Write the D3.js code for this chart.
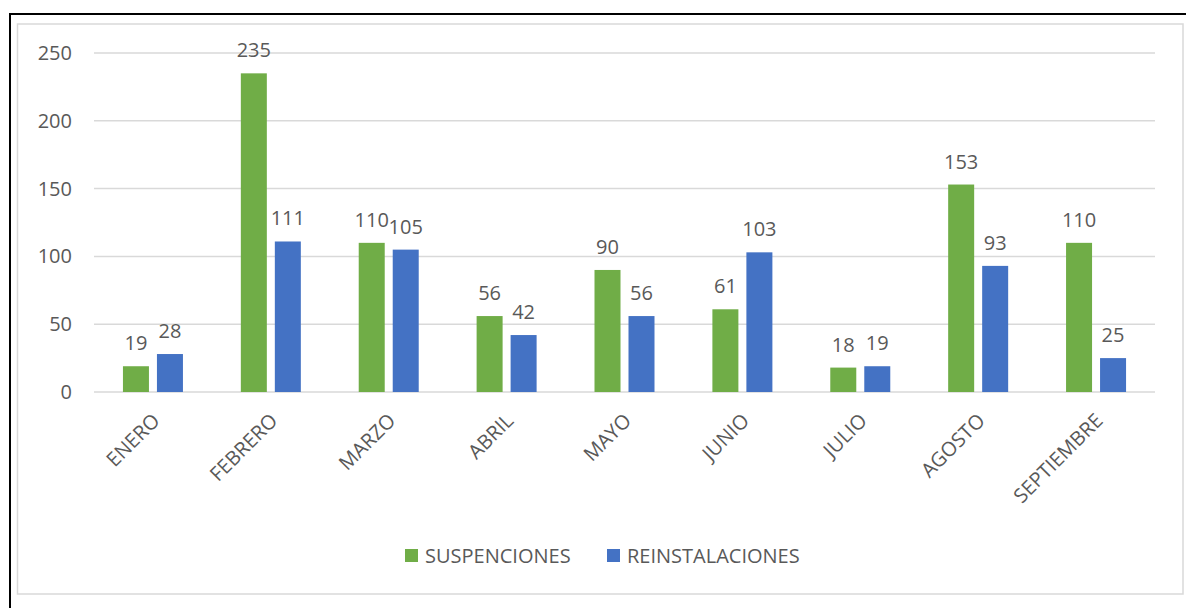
<!DOCTYPE html>
<html>
<head>
<meta charset="utf-8">
<script src="https://cdn.jsdelivr.net/npm/d3@7"></script>
<style>
  body { margin: 0; background: #fff; }
  text { font-family: "Open Sans", sans-serif; fill: #595959; }
</style>
</head>
<body>
<svg id="chart" width="1186" height="608"></svg>
<script>
var w = 1186;
var h = 608;

// data
var months = ['ENERO', 'FEBRERO', 'MARZO', 'ABRIL', 'MAYO', 'JUNIO', 'JULIO', 'AGOSTO', 'SEPTIEMBRE'];
var seriesNames = ['SUSPENCIONES', 'REINSTALACIONES'];
var suspenciones = [19, 235, 110, 56, 90, 61, 18, 153, 110];
var reinstalaciones = [28, 111, 105, 42, 56, 103, 19, 93, 25];
var yTicks = [0, 50, 100, 150, 200, 250];
var colors = ['#70AD47', '#4472C4'];

var svg = d3.select('#chart');

// outer frames
svg.append('rect')
   .attr('x', 17.5).attr('y', 24).attr('width', 1165.5).attr('height', 570)
   .attr('fill', 'none').attr('stroke', '#D9D9D9').attr('stroke-width', 1.5);
svg.append('line').attr('x1', 9).attr('x2', w).attr('y1', 14).attr('y2', 14)
   .attr('stroke', '#000').attr('stroke-width', 2);
svg.append('line').attr('x1', 10).attr('x2', 10).attr('y1', 13).attr('y2', h)
   .attr('stroke', '#000').attr('stroke-width', 2);

var plotLeft = 94, plotRight = 1155, plotTop = 53, plotBottom = 392;

var x = d3.scaleBand().domain(months).range([plotLeft, plotRight]).padding(0);
var y = d3.scaleLinear().domain([0, 250]).range([plotBottom, plotTop]);
var step = x.bandwidth();
var x1 = d3.scaleBand().domain(seriesNames)
           .range([(step - 60) / 2, (step + 60) / 2])
           .paddingInner(2 - 60 / 34);

// gridlines + y labels
var grid = svg.append('g');
grid.selectAll('line').data(yTicks).enter().append('line')
    .attr('x1', plotLeft).attr('x2', plotRight)
    .attr('y1', function(d) { return y(d); })
    .attr('y2', function(d) { return y(d); })
    .attr('stroke', '#D9D9D9').attr('stroke-width', 1.5);
grid.selectAll('text').data(yTicks).enter().append('text')
    .attr('x', 72)
    .attr('y', function(d) { return y(d) + 7; })
    .attr('text-anchor', 'end')
    .style('font-size', '20px')
    .text(function(d) { return d; });

// bars
var rows = months.map(function(m, i) {
  return { month: m, values: [suspenciones[i], reinstalaciones[i]] };
});

var groups = svg.selectAll('.month').data(rows).enter().append('g')
    .attr('class', 'month')
    .attr('transform', function(d) { return 'translate(' + x(d.month) + ',0)'; });

groups.selectAll('rect').data(function(d) { return d.values; }).enter().append('rect')
    .attr('x', function(d, i) { return x1(seriesNames[i]); })
    .attr('y', function(d) { return y(d); })
    .attr('width', x1.bandwidth())
    .attr('height', function(d) { return plotBottom - y(d); })
    .attr('fill', function(d, i) { return colors[i]; });

groups.selectAll('text').data(function(d) { return d.values; }).enter().append('text')
    .attr('x', function(d, i) { return x1(seriesNames[i]) + x1.bandwidth() / 2; })
    .attr('y', function(d) { return y(d) - 16; })
    .attr('text-anchor', 'middle')
    .style('font-size', '20px')
    .text(function(d) { return d; });

// x labels, rotated
svg.selectAll('.xlab').data(months).enter().append('text')
    .attr('class', 'xlab')
    .attr('text-anchor', 'end')
    .style('font-size', '20px')
    .attr('transform', function(d) {
      var cx = x(d) + step / 2 + 8;
      return 'translate(' + cx + ',' + (plotBottom + 30) + ') rotate(-45)';
    })
    .text(function(d) { return d; });

// legend
var legX = [405, 607];
var legend = svg.selectAll('.leg').data(seriesNames).enter().append('g')
    .attr('class', 'leg')
    .attr('transform', function(d, i) { return 'translate(' + legX[i] + ',549)'; });
legend.append('rect').attr('width', 13).attr('height', 13)
    .attr('fill', function(d, i) { return colors[i]; });
legend.append('text').attr('x', 20).attr('y', 13.5)
    .style('font-size', '20px')
    .text(function(d) { return d; });
</script>
</body>
</html>
